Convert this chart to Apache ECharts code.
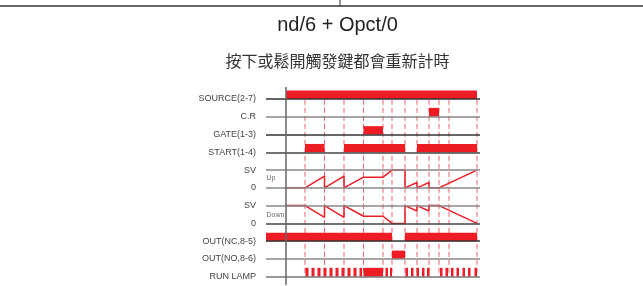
<!DOCTYPE html>
<html>
<head>
<meta charset="utf-8">
<script src="https://cdn.jsdelivr.net/npm/echarts@6/dist/echarts.min.js"></script>
<style>
  html, body { margin: 0; padding: 0; background: #fff; }
  #chart { width: 643px; height: 286px; }
</style>
</head>
<body>
<div id="chart"></div>
<script>
// rows, top to bottom
const rowLabels = ['SOURCE(2-7)', 'C.R', 'GATE(1-3)', 'START(1-4)', 'SV', '0', 'SV', '0', 'OUT(NC,8-5)', 'OUT(NO,8-6)', 'RUN LAMP']
const rowLineColors = ['#333', '#888', '#333', '#444', '#888', '#888', '#888', '#444', '#333', '#888', '#777']

// time of every dashed event line
const eventTimes = [19, 38.5, 58, 77.5, 97, 106, 119, 131, 143, 153, 163, 191]

// on-intervals [start, end] per signal
const sourceOn = [[0, 191]]
const crOn = [[143, 153]]
const gateOn = [[77.5, 97]]
const startOn = [[19, 38.5], [58, 119], [131, 191]]
const outNcOn = [[-20, 106], [119, 191]]
const outNoOn = [[106, 119]]
const runLampOn = [
  [19.5, 22.5], [25.5, 28.5], [31.5, 34.5], [37.5, 40.5], [43.5, 46.5],
  [49.5, 52.5], [55.5, 58.5], [61.5, 64.5], [67.5, 70.5], [73.5, 76],
  [77.5, 97], [99.5, 102], [104, 106],
  [119.5, 122], [125, 127.5], [130.5, 133], [136, 138.5], [141, 143.5],
  [154, 156.5], [159.5, 162], [165, 167.5], [170.5, 173], [176.5, 179], [182, 184.5], [188.5, 191],
]

// timer level as fraction of SV: [time, fraction]
const upLevel = [
  [0, 0], [19, 0], [38.5, 0.66], [38.5, 0], [58, 0.66], [58, 0], [77.5, 0.6], [97, 0.6],
  [106, 1], [119, 1], [119, 0], [131, 0.3], [131, 0], [143, 0.3], [143, 0], [153, 0], [191, 1],
]
const downLevel = [
  [0, 1], [19, 1], [38.5, 0.34], [38.5, 1], [58, 0.34], [58, 1], [77.5, 0.4], [97, 0.4],
  [106, 0], [119, 0], [119, 1], [131, 0.7], [131, 1], [143, 0.7], [143, 1], [153, 1], [191, 0],
]

const RED = '#ee1c25'
const BAR_H = 0.47

function toRects(list, row, h) {
  return list.map(([a, b]) => [a, b, row, h])
}

const rectData = [
  ...toRects(sourceOn, 0, BAR_H),
  ...toRects(crOn, 1, 0.5),
  ...toRects(gateOn, 2, BAR_H),
  ...toRects(startOn, 3, BAR_H),
  ...toRects(outNcOn, 8, BAR_H),
  ...toRects(outNoOn, 9, BAR_H),
  ...toRects(runLampOn, 10, 0.5),
]

function renderRect(params, api) {
  const p0 = api.coord([api.value(0), api.value(2)])
  const p1 = api.coord([api.value(1), api.value(2) - api.value(3)])
  return {
    type: 'rect',
    shape: { x: p0[0], y: p1[1], width: p1[0] - p0[0], height: p0[1] - p1[1] },
    style: { fill: RED },
  }
}

const chart = echarts.init(document.getElementById('chart'))

const dashedSeries = eventTimes.map((t) => ({
  type: 'line',
  data: [[t, 0.05], [t, 10]],
  showSymbol: false,
  silent: true,
  z: 2,
  lineStyle: { color: '#ea3a45', width: 1, type: [5, 3], opacity: 0.8 },
}))

chart.setOption({
  animation: false,
  graphic: [
    { type: 'line', shape: { x1: 0, y1: 6, x2: 643, y2: 6 }, style: { stroke: '#333', lineWidth: 1.5 } },
    { type: 'line', shape: { x1: 340, y1: 0, x2: 340, y2: 6 }, style: { stroke: '#333', lineWidth: 1 } },
    {
      type: 'text', x: 337.5, y: 25,
      style: { text: 'nd/6 + Opct/0', font: '20px "Liberation Sans", Arial, sans-serif', fill: '#222', textAlign: 'center', textVerticalAlign: 'middle' },
    },
    {
      type: 'text', x: 337.5, y: 61,
      style: { text: '按下或鬆開觸發鍵都會重新計時', font: '16px "Noto Sans CJK TC", sans-serif', fill: '#333', textAlign: 'center', textVerticalAlign: 'middle' },
    },
  ],
  grid: { left: 266, width: 214, top: 81.2, height: 204.4 },
  xAxis: {
    type: 'value', min: -20, max: 194,
    show: false,
  },
  yAxis: {
    type: 'value', min: -1, max: 10.5, interval: 1, inverse: true,
    axisLine: { show: false },
    axisTick: { show: false },
    splitLine: { show: false },
    axisLabel: {
      margin: 10,
      fontSize: 9,
      color: '#444',
      fontFamily: '"Liberation Sans", Arial, sans-serif',
      formatter: (v) => rowLabels[v] ?? '',
    },
  },
  series: [
    {
      type: 'line',
      data: [],
      z: 1,
      markLine: {
        silent: true,
        symbol: 'none',
        label: { show: false },
        data: rowLabels.map((_, i) => ({ yAxis: i, lineStyle: { color: rowLineColors[i], width: 1.5, type: 'solid' } })),
      },
    },
    ...dashedSeries,
    {
      type: 'custom',
      renderItem: renderRect,
      data: rectData,
      encode: { x: [0, 1], y: 2 },
      z: 3,
    },
    {
      type: 'line',
      data: upLevel.map(([t, f]) => [t, 5 - f]),
      showSymbol: false,
      z: 4,
      lineStyle: { color: RED, width: 1.5 },
    },
    {
      type: 'line',
      data: downLevel.map(([t, f]) => [t, 7 - f]),
      showSymbol: false,
      z: 4,
      lineStyle: { color: RED, width: 1.5 },
    },
    {
      type: 'line',
      data: [[0, -0.68], [0, 10.47]],
      showSymbol: false,
      z: 5,
      lineStyle: { color: '#666', width: 1.5 },
    },
    {
      type: 'scatter',
      data: [[-19.5, 4.46, 'Up'], [-19.5, 6.53, 'Down']],
      symbolSize: 0,
      z: 5,
      label: {
        show: true,
        position: 'right',
        distance: 0,
        formatter: (p) => p.data[2],
        fontSize: 7,
        color: '#444',
        fontFamily: '"Liberation Sans", Arial, sans-serif',
      },
    },
  ],
})
</script>
</body>
</html>
